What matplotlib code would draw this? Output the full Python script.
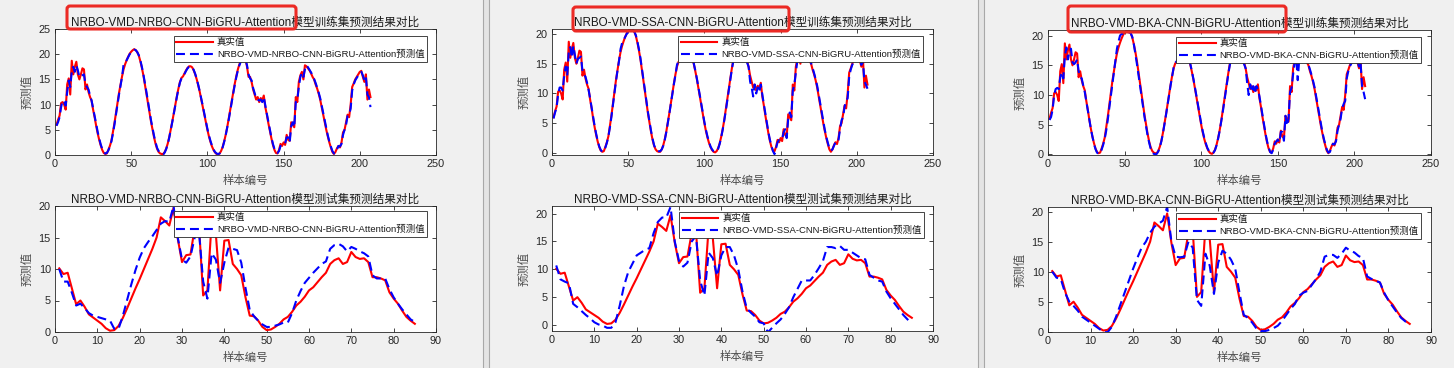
import matplotlib
matplotlib.use("Agg")
import matplotlib.pyplot as plt
from matplotlib.patches import FancyBboxPatch, Rectangle
from matplotlib.lines import Line2D
from matplotlib.transforms import Affine2D

plt.rcParams["font.family"] = ["Liberation Sans", "Noto Sans CJK SC"]

W, H = 1454, 368

MODELS = ["NRBO", "SSA", "BKA"]

# training set, true values (samples 1..207)
TRAIN_TRUE = [
    6.0, 7.0, 7.8, 10.3, 10.5, 10.0, 9.0, 14.0, 15.2, 12.0,
    18.7, 16.0, 17.5, 18.5, 16.0, 15.0, 16.0, 17.2, 17.0, 13.0,
    14.0, 12.5, 11.5, 10.8, 9.0, 7.5, 5.8, 4.3, 3.0, 1.9,
    1.0, 0.4, 0.2, 0.3, 1.0, 1.8, 2.8, 4.5, 6.3, 8.3,
    10.3, 12.3, 14.0, 15.6, 17.0, 18.0, 18.8, 19.5, 20.1, 20.5,
    20.8, 21.0, 20.8, 20.4, 19.7, 18.6, 17.3, 15.8, 14.0, 12.2,
    10.3, 8.4, 6.6, 5.0, 3.5, 2.2, 1.2, 0.6, 0.3, 0.2,
    0.2, 0.6, 1.3, 2.3, 3.6, 5.1, 6.7, 8.4, 10.1, 11.7,
    13.2, 14.5, 15.3, 15.6, 16.2, 16.8, 17.3, 17.6, 17.6, 17.4,
    16.8, 16.0, 15.0, 13.8, 12.5, 11.0, 9.5, 8.0, 6.5, 5.0,
    3.7, 2.6, 1.7, 1.0, 0.5, 0.2, 0.1, 0.3, 0.8, 1.6,
    2.7, 4.0, 5.5, 7.2, 9.0, 10.8, 12.5, 14.2, 15.7, 17.0,
    18.0, 18.8, 19.3, 19.5, 19.0, 17.5, 15.5, 15.5, 14.5, 13.0,
    12.0, 11.0, 11.5, 10.5, 11.3, 10.8, 11.8, 9.5, 8.0, 6.3,
    4.8, 3.3, 2.0, 1.0, 0.4, 0.3, 1.0, 2.2, 1.8, 2.5,
    2.0, 4.0, 3.0, 2.8, 6.5, 6.0, 5.5, 11.5, 10.5, 14.5,
    15.8, 16.5, 15.0, 17.8, 17.6, 17.2, 16.8, 16.2, 15.5, 15.0,
    14.0, 13.2, 12.2, 11.0, 9.5, 8.0, 6.5, 5.0, 3.7, 2.5,
    1.5, 0.6, 0.2, 0.6, 1.3, 1.8, 1.5, 2.5, 4.5, 5.0,
    6.5, 8.0, 7.5, 10.0, 13.5, 14.2, 15.0, 15.5, 16.0, 16.5,
    16.7, 15.5, 14.5, 16.0, 11.0, 13.0, 11.5,
]

TRAIN_PRED_NRBO = [
    5.8, 6.5, 7.5, 9.5, 10.8, 10.5, 9.8, 12.5, 14.8, 13.5,
    16.5, 17.5, 16.5, 17.8, 16.8, 15.5, 15.5, 15.8, 16.0, 14.0,
    13.5, 13.0, 11.8, 10.8, 9.3, 7.8, 6.2, 4.6, 3.3, 2.1,
    1.2, 0.6, 0.3, 0.4, 0.9, 1.7, 2.7, 4.2, 6.0, 8.0,
    10.0, 12.0, 13.8, 15.5, 18.0, 18.3, 18.8, 19.4, 20.0, 20.4,
    20.7, 20.9, 20.8, 20.4, 19.8, 18.8, 17.5, 16.0, 14.3, 12.5,
    10.6, 8.7, 6.9, 5.3, 3.8, 2.5, 1.4, 0.8, 0.4, 0.2,
    0.1, 0.5, 1.2, 2.2, 3.5, 5.0, 6.6, 8.3, 10.0, 11.6,
    13.1, 14.4, 15.2, 15.6, 16.1, 16.7, 17.2, 17.5, 17.6, 17.4,
    16.9, 16.1, 15.1, 13.9, 12.6, 11.2, 9.7, 8.2, 6.7, 5.2,
    3.9, 2.8, 1.9, 1.1, 0.6, 0.3, 0.2, 0.3, 0.7, 1.5,
    2.6, 3.9, 5.4, 7.0, 8.8, 10.6, 12.3, 14.0, 15.5, 16.8,
    17.8, 18.6, 19.1, 19.4, 19.0, 17.8, 16.0, 15.2, 14.8, 13.3,
    12.3, 11.2, 11.0, 10.8, 11.0, 10.5, 11.5, 9.8, 8.2, 6.6,
    5.0, 3.5, 2.2, 1.2, 0.6, 0.4, 0.8, 1.8, 2.2, 2.2,
    2.3, 3.5, 3.5, 2.5, 5.8, 6.5, 5.5, 10.5, 11.0, 13.5,
    15.5, 16.3, 15.5, 17.0, 17.8, 17.4, 16.9, 16.4, 15.8, 15.1,
    14.3, 13.4, 12.4, 11.3, 9.8, 8.3, 6.8, 5.3, 3.9, 2.7,
    1.7, 0.8, 0.3, 0.4, 1.1, 1.8, 1.7, 2.2, 4.0, 5.0,
    6.0, 7.8, 8.0, 9.2, 12.8, 14.0, 14.8, 15.3, 15.8, 16.2,
    16.5, 15.8, 14.8, 15.5, 12.0, 11.5, 9.5,
]

TRAIN_PRED_SSA = [
    5.8, 6.8, 7.6, 9.8, 11.0, 11.0, 10.5, 13.0, 14.5, 13.0,
    17.0, 17.8, 16.0, 18.0, 16.5, 15.0, 15.8, 16.0, 16.2, 13.8,
    13.2, 12.8, 11.8, 10.6, 9.2, 7.6, 6.0, 4.5, 3.2, 2.0,
    1.1, 0.5, 0.2, 0.3, 0.9, 1.7, 2.8, 4.3, 6.1, 8.1,
    10.1, 12.1, 13.9, 15.5, 17.5, 18.5, 19.0, 19.5, 20.0, 20.4,
    20.7, 20.9, 20.8, 20.4, 19.8, 18.8, 17.5, 16.0, 14.2, 12.4,
    10.5, 8.6, 6.8, 5.2, 3.7, 2.4, 1.3, 0.7, 0.4, 0.3,
    0.3, 0.6, 1.2, 2.2, 3.5, 5.0, 6.6, 8.3, 10.0, 11.6,
    13.1, 14.8, 15.5, 15.7, 16.1, 16.7, 17.2, 17.5, 17.6, 17.4,
    16.9, 16.1, 15.1, 13.9, 12.6, 11.2, 9.7, 8.2, 6.7, 5.2,
    3.9, 2.8, 1.9, 1.1, 0.6, 0.3, 0.2, 0.3, 0.7, 1.5,
    2.6, 3.9, 5.4, 7.0, 8.8, 10.6, 12.3, 14.0, 15.5, 16.8,
    17.8, 18.6, 19.1, 19.4, 19.0, 17.8, 16.0, 15.2, 14.5, 12.0,
    11.0, 9.5, 11.5, 10.0, 11.0, 10.2, 11.5, 9.8, 8.2, 6.6,
    5.0, 3.5, 2.2, 1.2, 0.3, -0.2, 0.8, 1.8, 2.2, 2.2,
    2.3, 3.5, 4.0, 2.5, 5.8, 6.8, 6.0, 10.5, 11.5, 13.5,
    15.5, 16.3, 15.5, 17.0, 17.8, 17.4, 16.9, 16.4, 15.8, 15.1,
    14.3, 13.4, 12.4, 11.3, 9.8, 8.3, 6.8, 5.3, 3.9, 2.7,
    1.7, 0.8, 0.4, 0.6, 1.2, 1.8, 1.7, 2.2, 4.0, 5.5,
    6.0, 7.8, 8.8, 9.2, 12.8, 14.0, 14.8, 15.3, 15.8, 16.2,
    16.5, 15.8, 14.8, 15.5, 12.0, 11.5, 10.8,
]

TRAIN_PRED_BKA = [
    5.8, 6.3, 7.5, 10.0, 11.0, 11.2, 11.0, 13.0, 13.8, 12.8,
    16.5, 18.0, 16.0, 17.5, 17.8, 15.5, 15.2, 15.5, 16.0, 14.0,
    13.0, 12.8, 11.6, 10.5, 9.0, 7.4, 5.8, 4.3, 3.0, 1.8,
    0.9, 0.3, 0.1, 0.2, 0.8, 1.6, 2.6, 4.0, 5.8, 7.8,
    9.8, 11.8, 13.8, 15.8, 17.8, 19.0, 20.0, 20.3, 20.3, 20.4,
    20.4, 20.5, 20.6, 20.4, 19.8, 18.6, 17.0, 15.3, 13.5, 11.7,
    9.8, 8.0, 6.3, 4.7, 3.2, 2.0, 1.0, 0.4, 0.1, 0.0,
    0.1, 0.5, 1.2, 2.2, 3.5, 5.0, 6.6, 8.3, 10.0, 11.6,
    13.1, 14.6, 15.4, 15.7, 16.1, 16.7, 17.2, 17.5, 17.6, 17.4,
    16.9, 16.1, 15.1, 13.9, 12.6, 11.2, 9.7, 8.2, 6.7, 5.2,
    3.9, 2.8, 1.9, 1.1, 0.6, 0.3, 0.2, 0.3, 0.7, 1.5,
    2.6, 3.9, 5.4, 7.0, 8.8, 10.6, 12.3, 14.0, 15.5, 16.8,
    17.8, 18.6, 19.1, 19.4, 19.0, 17.8, 16.0, 15.2, 14.5, 12.0,
    10.0, 11.8, 10.5, 11.5, 10.2, 11.5, 11.0, 9.8, 8.2, 6.6,
    5.0, 3.5, 2.2, 1.2, 0.4, 0.2, 0.8, 1.8, 2.2, 2.5,
    2.0, 3.8, 3.8, 2.3, 6.5, 4.8, 6.0, 10.5, 11.2, 13.5,
    15.5, 16.3, 12.5, 16.0, 17.8, 17.4, 16.9, 16.4, 15.8, 15.1,
    14.3, 13.4, 12.4, 11.3, 9.8, 8.3, 6.8, 5.3, 3.9, 2.7,
    1.7, 0.8, 0.3, 0.4, 1.1, 1.8, 1.7, 2.2, 4.0, 5.0,
    6.0, 7.8, 8.5, 9.0, 12.8, 14.0, 14.8, 15.3, 15.8, 16.2,
    16.5, 15.8, 14.8, 15.5, 11.5, 10.5, 9.3,
]

# test set, true values (samples 1..85)
TEST_TRUE = [
    10.1, 9.2, 9.4, 6.9, 4.4, 5.0, 4.0, 2.8, 2.3, 1.8,
    1.3, 0.6, 0.2, 0.3, 0.95, 2.2, 3.7, 5.3, 6.9, 8.4,
    10.0, 11.6, 13.2, 15.0, 18.2, 17.6, 16.9, 19.7, 14.8, 11.1,
    12.2, 12.3, 16.5, 17.0, 5.8, 6.6, 17.5, 15.5, 6.6, 14.5,
    14.6, 10.8, 10.0, 9.0, 5.5, 2.6, 2.5, 1.8, 0.8, 0.3,
    0.4, 0.8, 1.3, 2.0, 2.4, 3.2, 4.2, 4.8, 5.6, 6.6,
    7.1, 7.9, 8.7, 9.4, 10.8, 11.4, 11.7, 10.8, 11.1, 12.7,
    11.9, 11.6, 11.7, 11.1, 8.7, 8.7, 8.5, 8.2, 6.3, 5.3,
    4.5, 3.4, 2.4, 1.8, 1.3,
]

TEST_PRED_NRBO = [
    10.0, 8.0, 8.0, 6.2, 4.2, 4.5, 3.8, 3.0, 2.6, 2.4,
    2.2, 2.0, 1.8, 0.5, 0.5, 2.5, 5.0, 7.5, 9.8, 11.8,
    13.3, 14.3, 15.2, 16.2, 17.2, 17.6, 17.5, 20.0, 15.0, 11.5,
    11.0, 12.0, 15.0, 16.0, 8.0, 5.3, 12.5, 11.5, 7.8, 11.0,
    13.4, 13.2, 13.0, 11.0, 7.0, 3.5, 2.5, 1.8, 1.2, 0.8,
    0.8, 1.0, 1.2, 1.5, 1.5, 3.0, 5.0, 6.5, 7.8, 8.6,
    9.4, 10.1, 10.8, 11.2, 13.2, 13.8, 14.0, 13.6, 12.8, 13.5,
    13.2, 12.8, 12.5, 12.0, 9.0, 8.5, 8.5, 8.5, 6.8, 5.5,
    4.5, 3.6, 2.8, 2.0, 1.6,
]

TEST_PRED_SSA = [
    10.7, 8.2, 7.8, 7.5, 3.8, 3.2, 2.5, 1.8, 1.2, 0.5,
    0.1, -0.1, -0.5, -0.5, 0.5, 3.5, 7.0, 9.5, 11.0, 12.5,
    13.0, 13.5, 13.8, 16.5, 18.5, 19.3, 19.3, 21.2, 15.0, 11.5,
    10.5, 11.2, 15.0, 16.0, 8.0, 5.3, 13.0, 12.0, 8.8, 12.5,
    14.0, 14.0, 12.5, 10.0, 6.0, 3.0, 2.2, 1.5, 0.5, 0.3,
    -1.3, -0.5, 0.3, 1.0, 2.0, 3.2, 5.0, 6.5, 8.0, 8.0,
    8.0, 9.0, 10.2, 11.5, 14.0, 14.0, 13.8, 14.2, 13.5, 13.5,
    13.0, 12.5, 12.0, 11.8, 9.0, 8.5, 8.0, 7.8, 6.0, 4.8,
    3.8, 2.8, 1.8, 1.0, 0.3,
]

TEST_PRED_BKA = [
    10.0, 9.0, 8.8, 6.5, 5.0, 4.3, 3.5, 2.5, 2.0, 1.5,
    1.0, 0.5, 0.0, -0.1, 0.8, 2.5, 4.5, 6.5, 8.5, 10.5,
    12.3, 14.0, 15.0, 16.5, 17.5, 18.0, 18.5, 20.8, 15.0, 12.5,
    12.4, 12.5, 15.0, 14.0, 5.3, 4.3, 13.0, 11.0, 6.3, 11.5,
    13.5, 13.0, 12.0, 10.5, 6.5, 2.8, 2.3, 1.5, 0.5, 0.1,
    0.1, 0.3, 0.6, 1.0, 1.8, 2.8, 3.8, 4.6, 6.0, 6.5,
    6.8, 7.8, 8.8, 10.0, 12.5, 12.8, 12.8, 12.3, 13.0, 14.0,
    13.5, 13.2, 12.6, 12.3, 9.2, 8.8, 8.5, 8.2, 6.5, 5.2,
    4.2, 3.2, 2.3, 1.7, 1.3,
]

TRAIN_PREDS = [TRAIN_PRED_NRBO, TRAIN_PRED_SSA, TRAIN_PRED_BKA]
TEST_PREDS = [TEST_PRED_NRBO, TEST_PRED_SSA, TEST_PRED_BKA]

# pixel layout of the three screenshots (x0, y0, x1, y1 from top-left)
TRAIN_AXES = [(55, 29, 436, 155), (552, 29, 933, 155), (1048, 30, 1431, 155)]
TEST_AXES = [(55, 206, 436, 332), (552, 206, 933, 331), (1048, 207, 1431, 332)]
TRAIN_YLIM = [(0, 25), (-0.34, 20.84), (-0.1, 20.95)]
TEST_YLIM = [(0, 20), (-1.07, 21.37), (-0.05, 20.78)]
TRAIN_LEGEND = [(427, 36), (923, 36), (1421, 37)]
TEST_LEGEND = [(427, 211), (924, 212), (1421, 213)]
RED_BOXES = [(67, 6, 296, 29), (573, 7, 789, 31), (1068, 6, 1286, 32)]

AX_COLOR = "#262626"
LABEL_COLOR = "#4d4d4d"

fig = plt.figure(figsize=(W / 100, H / 100), dpi=100, facecolor="#f0f0f0")
px = Affine2D().scale(1 / W, -1 / H).translate(0, 1) + fig.transFigure


def add_px_axes(box):
    x0, y0, x1, y1 = box
    return fig.add_axes([x0 / W, 1 - y1 / H, (x1 - x0) / W, (y1 - y0) / H])


def draw_panel(ax, x, true, pred, model, xlim, xticks, ylim, yticks, title, legend_anchor):
    ax.plot(x, true, color="#ff0000", lw=1.5, label="真实值")
    ax.plot(x, pred, color="#0000ff", lw=1.5, ls=(0, (4.3, 2.4)),
            label=f"NRBO-VMD-{model}-CNN-BiGRU-Attention预测值")
    ax.set_xlim(*xlim)
    ax.set_ylim(*ylim)
    ax.set_xticks(xticks)
    ax.set_yticks(yticks)
    ax.tick_params(direction="in", top=True, right=True, length=3, width=0.6,
                   labelsize=7.8, colors=AX_COLOR, pad=3)
    for spine in ax.spines.values():
        spine.set_color(AX_COLOR)
        spine.set_linewidth(0.6)
    ax.set_title(title, fontsize=8.4, color="#1a1a1a", pad=2.5)
    ax.set_xlabel("样本编号", fontsize=8.2, color=LABEL_COLOR)
    ax.set_ylabel("预测值", fontsize=8.2, color=LABEL_COLOR)
    ax.xaxis.set_label_coords(0.5, -0.16)
    ax.yaxis.set_label_coords(-0.058, 0.5)
    lx, ly = legend_anchor
    leg = ax.legend(loc="upper right", bbox_to_anchor=(lx / W, 1 - ly / H),
                    bbox_transform=fig.transFigure, borderaxespad=0, fontsize=6.8,
                    frameon=True, fancybox=False, framealpha=1, edgecolor=AX_COLOR,
                    handlelength=3.9, handletextpad=0.4, borderpad=0.25, labelspacing=0.3)
    leg.get_frame().set_linewidth(0.6)
    for text in leg.get_texts():
        text.set_color("#1a1a1a")


train_x = list(range(1, len(TRAIN_TRUE) + 1))
test_x = list(range(1, len(TEST_TRUE) + 1))

for i, model in enumerate(MODELS):
    ax = add_px_axes(TRAIN_AXES[i])
    draw_panel(ax, train_x, TRAIN_TRUE, TRAIN_PREDS[i], model, (0, 250),
               [0, 50, 100, 150, 200, 250], TRAIN_YLIM[i],
               [0, 5, 10, 15, 20, 25] if i == 0 else [0, 5, 10, 15, 20],
               f"NRBO-VMD-{model}-CNN-BiGRU-Attention模型训练集预测结果对比",
               TRAIN_LEGEND[i])

    ax = add_px_axes(TEST_AXES[i])
    draw_panel(ax, test_x, TEST_TRUE, TEST_PREDS[i], model, (0, 90),
               list(range(0, 91, 10)), TEST_YLIM[i], [0, 5, 10, 15, 20],
               f"NRBO-VMD-{model}-CNN-BiGRU-Attention模型测试集预测结果对比",
               TEST_LEGEND[i])

# window separators between the three screenshots
for left, right in [(483, 489), (978, 984)]:
    fig.add_artist(Rectangle((left, 0), right - left, H, transform=px,
                             facecolor="#e4e4e4", edgecolor="none"))
    for xx in (left, right):
        fig.add_artist(Line2D([xx, xx], [0, H], transform=px, color="#a8a8a8", lw=0.8))

# red highlight boxes around model names
for x0, y0, x1, y1 in RED_BOXES:
    fig.add_artist(FancyBboxPatch((x0, y0), x1 - x0, y1 - y0,
                                  boxstyle="round,pad=0,rounding_size=3",
                                  transform=px, facecolor="none",
                                  edgecolor="#ec2a25", lw=2.2))

fig.savefig("out.png", dpi=100, facecolor=fig.get_facecolor())
